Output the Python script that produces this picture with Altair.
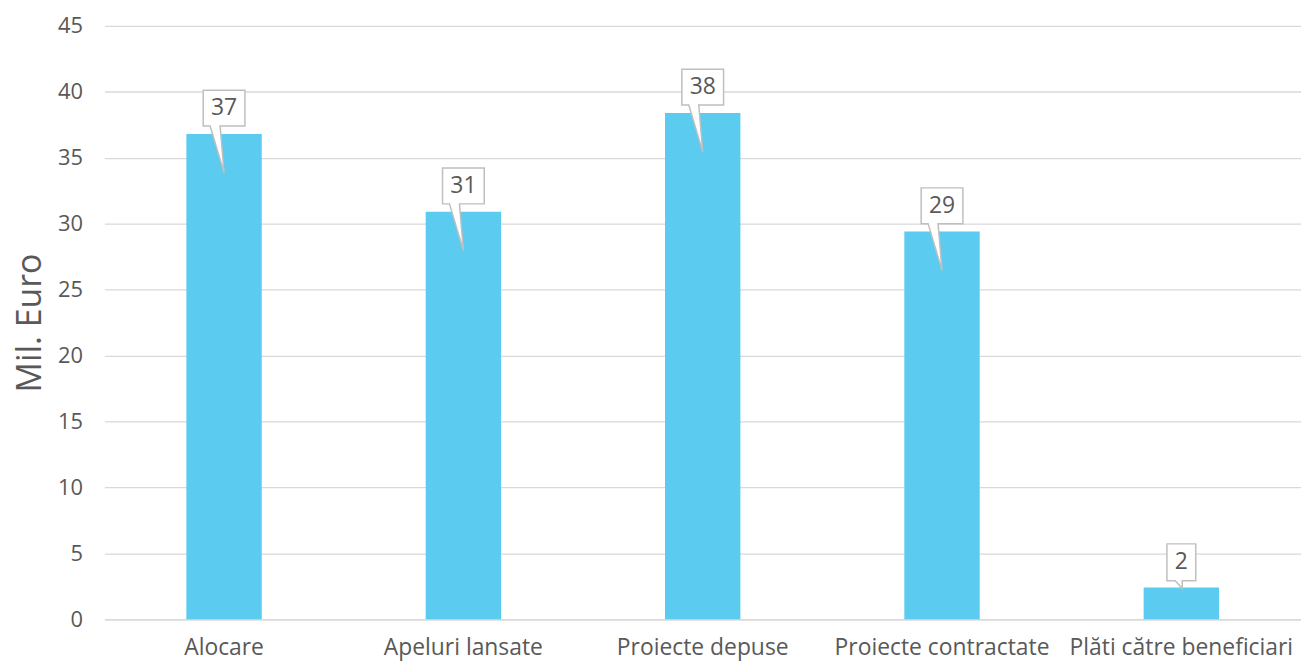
import altair as alt
import pandas as pd

categories = ["Alocare", "Apeluri lansate", "Proiecte depuse", "Proiecte contractate", "Plăti către beneficiari"]
values = [36.8, 30.9, 38.4, 29.4, 2.4]
labels = ["37", "31", "38", "29", "2"]
y_ticks = [0, 5, 10, 15, 20, 25, 30, 35, 40, 45]

df = pd.DataFrame({"cat": categories, "val": values, "lab": labels})

FONT = "Open Sans"
GRAY = "#595959"

# callout shapes (unit square -1..1, anchored at bar top)
long_path = ("M -0.477 -1 L 0.477 -1 L 0.477 -0.182 L -0.09 -0.182 "
             "L 0 0.886 L -0.318 -0.182 L -0.477 -0.182 Z")
short_path = ("M -0.33 -1 L 0.33 -1 L 0.33 -0.159 L 0.02 -0.159 "
              "L 0.02 0.023 L -0.14 -0.159 L -0.33 -0.159 Z")

x_enc = alt.X("cat:N", sort=categories, title=None,
              scale=alt.Scale(paddingInner=0.685, paddingOuter=0.3425),
              axis=alt.Axis(labelAngle=0, labelFontSize=23, labelColor=GRAY,
                            labelFont=FONT, ticks=False, domainColor="#D9D9D9",
                            domainWidth=1.5, labelPadding=17, grid=False,
                            labelLimit=0))
y_enc = alt.Y("val:Q", title="Mil. Euro",
              scale=alt.Scale(domain=[0, 45], nice=False),
              axis=alt.Axis(values=y_ticks, labelFontSize=22, labelColor=GRAY,
                            labelFont=FONT, ticks=False, domain=False,
                            gridColor="#D9D9D9", gridWidth=1.3, labelPadding=22,
                            titleFontSize=34, titleFont=FONT, titleColor=GRAY,
                            titleFontWeight="normal", titlePadding=10))

base = alt.Chart(df)

bars = base.mark_bar(color="#5BCBEF").encode(x=x_enc, y=y_enc)

callouts = base.mark_point(filled=True, fill="white", stroke="#BFBFBF",
                           strokeWidth=1.5, opacity=1, size=7744).encode(
    x=alt.X("cat:N", sort=categories),
    y=alt.Y("val:Q"),
    shape=alt.condition(alt.datum.val < 5, alt.value(short_path), alt.value(long_path)),
)

texts = base.mark_text(dy=-26, fontSize=23, color=GRAY, font=FONT,
                       baseline="middle").encode(
    x=alt.X("cat:N", sort=categories),
    y=alt.Y("val:Q"),
    text="lab:N",
)

chart = alt.layer(bars, callouts, texts).properties(
    width=1204, height=597,
    autosize=alt.AutoSizeParams(type="none"),
    padding={"left": 97, "top": 16, "right": 0, "bottom": 44},
).configure_view(stroke=None)

chart.save("out.html", embed_options={"renderer": "svg", "actions": False})
